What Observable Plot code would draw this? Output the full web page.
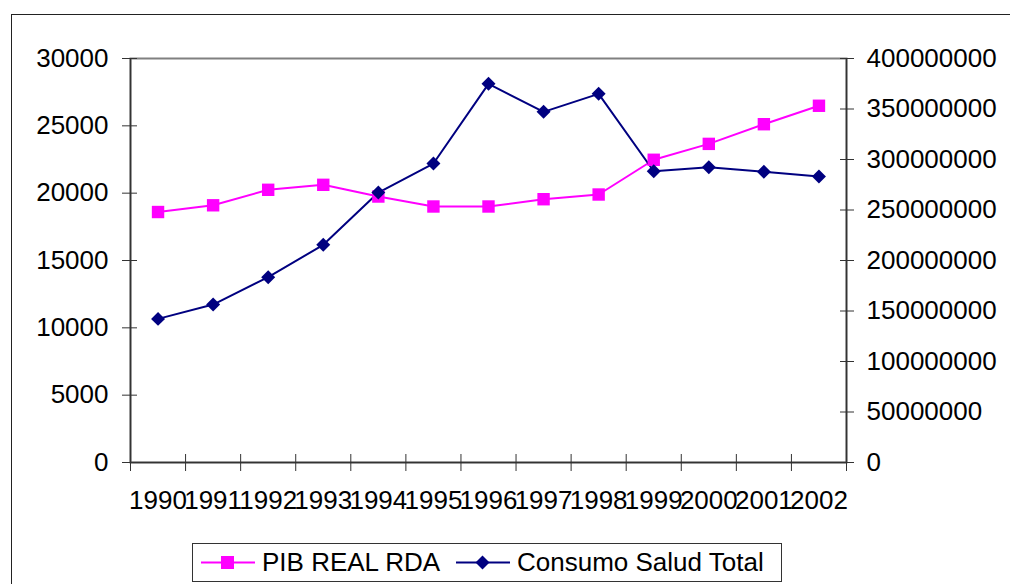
<!DOCTYPE html>
<html>
<head>
<meta charset="utf-8">
<script src="https://cdn.jsdelivr.net/npm/d3@7"></script>
<script src="https://cdn.jsdelivr.net/npm/@observablehq/plot@0.6"></script>
<style>
  html, body { margin: 0; padding: 0; background: #fff; overflow: hidden; }
  body { width: 1010px; height: 584px; position: relative; font-family: "Liberation Sans", Arial, sans-serif; }
  #outer { position: absolute; left: 11px; top: 14px; width: 1100px; height: 700px; border: 1.5px solid #222; box-sizing: border-box; }
  #chart { position: absolute; left: 0; top: 0; }
  #legend { position: absolute; left: 192px; top: 543px; width: 590px; height: 39px; border: 1.5px solid #333; box-sizing: border-box; background: #fff; }
  .item { position: absolute; top: 0; height: 36px; display: flex; align-items: center; font-size: 26px; color: #000; white-space: nowrap; }
  .item svg { display: block; margin-right: 7px; }
</style>
</head>
<body>
<div id="outer"></div>
<div id="chart"></div>
<div id="legend"></div>
<script>
// ---- data ----
const years = [1990, 1991, 1992, 1993, 1994, 1995, 1996, 1997, 1998, 1999, 2000, 2001, 2002];
const pibReal = [18600, 19100, 20250, 20620, 19750, 19010, 19010, 19550, 19900, 22480, 23660, 25120, 26490];
const consumoSalud = [142200000, 156400000, 183500000, 215500000, 267300000, 296000000, 374900000, 347200000, 365000000, 288400000, 292400000, 287800000, 283200000];
const leftTicks = [0, 5000, 10000, 15000, 20000, 25000, 30000];
const rightTicks = [0, 50000000, 100000000, 150000000, 200000000, 250000000, 300000000, 350000000, 400000000];
const seriesNames = ["PIB REAL RDA", "Consumo Salud Total"];
const seriesColors = ["#FF00FF", "#000080"];

const LEFT_MAX = 30000, RIGHT_MAX = 400000000;
const k = LEFT_MAX / RIGHT_MAX;
const xDomain = [years[0] - 0.5, years[years.length - 1] + 0.5];
const bounds = years.map(y => y - 0.5).concat([years[years.length - 1] + 0.5]);

const pibData = years.map((y, i) => ({year: y, value: pibReal[i]}));
const saludData = years.map((y, i) => ({year: y, value: consumoSalud[i] * k}));

const axisColor = "#333";
const noText = () => "";

const chart = Plot.plot({
  width: 1010,
  height: 530,
  marginLeft: 130,
  marginRight: 164,
  marginTop: 58,
  marginBottom: 68,
  x: {domain: xDomain},
  y: {domain: [0, LEFT_MAX]},
  style: {fontFamily: "'Liberation Sans', Arial, sans-serif", fontSize: "26px", color: "#000", background: "transparent", overflow: "visible"},
  marks: [
    Plot.frame({stroke: "#808080", strokeWidth: 2}),
    Plot.ruleX([xDomain[0], xDomain[1]], {stroke: axisColor, strokeWidth: 1.5}),
    Plot.ruleY([0], {stroke: axisColor, strokeWidth: 1.5}),
    // x axis: crossing tick marks at category boundaries, labels at centers
    Plot.axisX(bounds, {anchor: "bottom", tickSize: 17, dy: -8, tickFormat: noText, stroke: axisColor, label: null}),
    Plot.axisX(years, {anchor: "bottom", tickSize: 0, tickPadding: 28, tickFormat: d => String(d), fontSize: 26, label: null}),
    // left axis
    Plot.axisY(leftTicks, {anchor: "left", tickSize: 15, dx: 7, tickFormat: noText, stroke: axisColor, label: null}),
    Plot.axisY(leftTicks, {anchor: "left", tickSize: 0, tickPadding: 22, tickFormat: d => String(d), fontSize: 26, label: null}),
    // right axis (Consumo Salud Total)
    Plot.axisY(rightTicks.map(v => v * k), {anchor: "right", tickSize: 14, dx: -7, tickFormat: noText, stroke: axisColor, label: null}),
    Plot.axisY(rightTicks.map(v => v * k), {anchor: "right", tickSize: 0, tickPadding: 20, tickFormat: d => String(Math.round(d / k)), fontSize: 26, label: null}),
    // series
    Plot.line(pibData, {x: "year", y: "value", stroke: seriesColors[0], strokeWidth: 2}),
    Plot.line(saludData, {x: "year", y: "value", stroke: seriesColors[1], strokeWidth: 2}),
    Plot.dot(pibData, {x: "year", y: "value", symbol: "square", r: 7, fill: seriesColors[0], stroke: "none"}),
    Plot.dot(saludData, {x: "year", y: "value", symbol: "diamond2", r: 6.3, fill: seriesColors[1], stroke: "none"})
  ]
});
document.getElementById("chart").appendChild(chart);

// legend
const legend = document.getElementById("legend");
const lefts = [8, 263];
seriesNames.forEach((name, i) => {
  const item = document.createElement("div");
  item.className = "item";
  item.style.left = lefts[i] + "px";
  const marker = i === 0
    ? `<rect x="20" y="6" width="13" height="13" fill="${seriesColors[i]}"/>`
    : `<path d="M26.5,5.5 L33.5,12.5 L26.5,19.5 L19.5,12.5 Z" fill="${seriesColors[i]}"/>`;
  item.innerHTML = `<svg width="54" height="25"><line x1="0" y1="12.5" x2="54" y2="12.5" stroke="${seriesColors[i]}" stroke-width="2"/>${marker}</svg><span>${name}</span>`;
  legend.appendChild(item);
});
</script>
</body>
</html>
